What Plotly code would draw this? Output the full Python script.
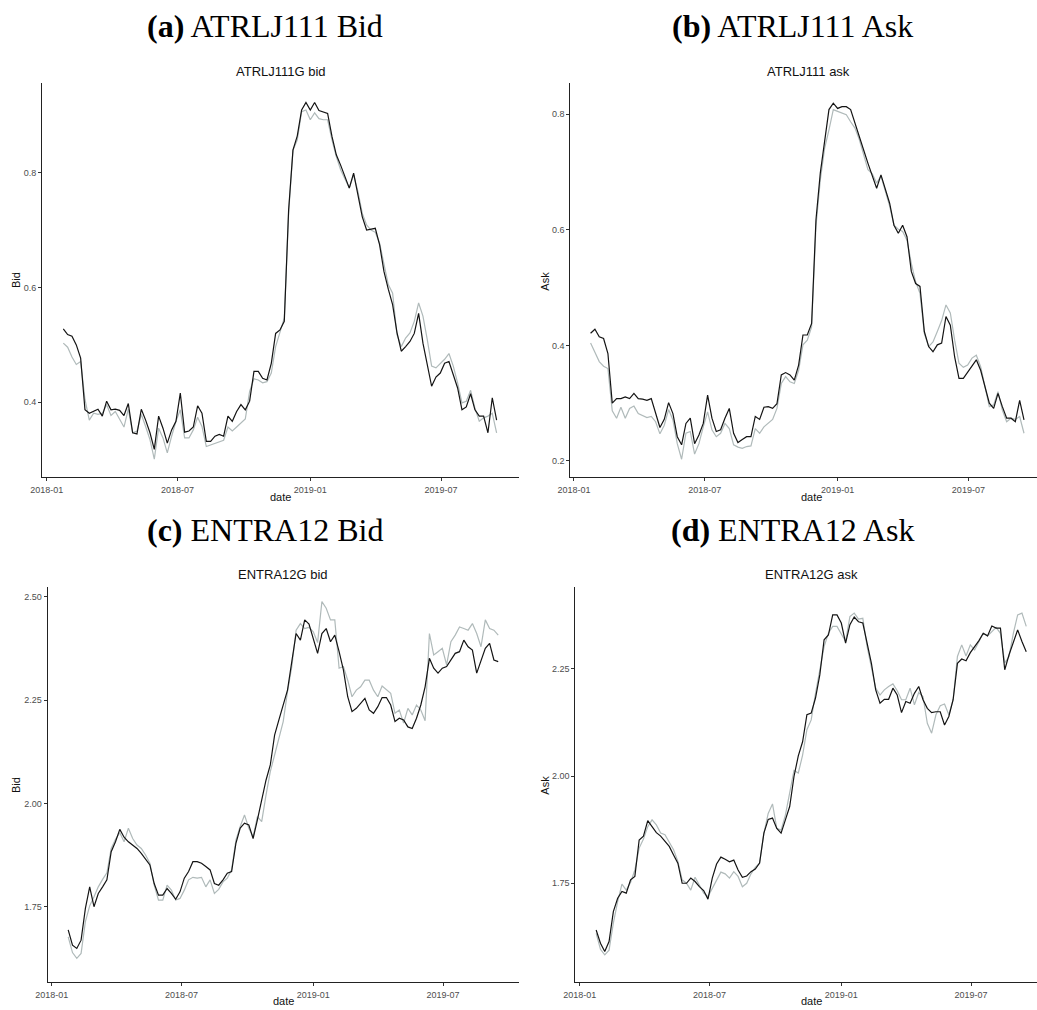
import pandas as pd
import plotly.graph_objects as go

# ---------------- data ----------------
dates = pd.date_range("2018-01-24", periods=101, freq="6D")

a_black = [0.528,0.518,0.515,0.500,0.477,0.387,0.381,0.384,0.388,0.376,
           0.402,0.387,0.388,0.386,0.377,0.398,0.347,0.345,0.388,0.369,
           0.347,0.318,0.376,0.355,0.329,0.352,0.367,0.416,0.348,0.350,
           0.357,0.394,0.381,0.332,0.332,0.341,0.344,0.341,0.376,0.367,
           0.384,0.396,0.387,0.402,0.454,0.454,0.442,0.439,0.468,0.520,
           0.526,0.541,0.735,0.839,0.864,0.909,0.922,0.909,0.922,0.908,
           0.906,0.903,0.863,0.831,0.813,0.793,0.773,0.799,0.764,0.723,
           0.700,0.701,0.703,0.674,0.628,0.597,0.570,0.522,0.489,0.497,
           0.506,0.520,0.555,0.503,0.468,0.428,0.444,0.451,0.468,0.471,
           0.448,0.425,0.387,0.392,0.415,0.387,0.376,0.376,0.347,0.408,
           0.369]
a_grey = [0.503,0.496,0.479,0.466,0.471,0.405,0.369,0.381,0.379,0.381,
          0.396,0.377,0.384,0.371,0.357,0.388,0.347,0.350,0.379,0.358,
          0.335,0.301,0.355,0.338,0.312,0.341,0.367,0.387,0.338,0.338,
          0.352,0.374,0.358,0.323,0.326,0.329,0.332,0.334,0.357,0.350,
          0.357,0.364,0.371,0.419,0.441,0.439,0.434,0.436,0.451,0.497,
          0.521,0.547,0.729,0.839,0.857,0.906,0.909,0.892,0.904,0.894,
          0.892,0.892,0.857,0.828,0.805,0.790,0.773,0.796,0.767,0.729,
          0.709,0.700,0.696,0.677,0.639,0.605,0.590,0.518,0.497,0.512,
          0.521,0.541,0.573,0.550,0.509,0.463,0.460,0.468,0.475,0.485,
          0.463,0.434,0.399,0.402,0.421,0.390,0.367,0.373,0.376,0.381,
          0.347]
b_black = [0.421,0.428,0.415,0.412,0.386,0.300,0.308,0.308,0.311,0.308,
           0.317,0.308,0.307,0.305,0.308,0.282,0.258,0.272,0.301,0.282,
           0.242,0.228,0.265,0.274,0.230,0.245,0.265,0.314,0.274,0.251,
           0.254,0.274,0.291,0.248,0.232,0.237,0.242,0.242,0.277,0.272,
           0.293,0.294,0.291,0.299,0.349,0.353,0.349,0.340,0.366,0.418,
           0.418,0.438,0.617,0.698,0.750,0.808,0.819,0.810,0.813,0.813,
           0.808,0.784,0.758,0.738,0.715,0.695,0.672,0.695,0.669,0.646,
           0.608,0.594,0.608,0.588,0.528,0.507,0.502,0.424,0.398,0.389,
           0.401,0.404,0.450,0.435,0.380,0.343,0.343,0.353,0.363,0.375,
           0.357,0.330,0.300,0.291,0.317,0.294,0.274,0.274,0.268,0.305,
           0.271]
b_grey = [0.404,0.389,0.372,0.364,0.360,0.287,0.274,0.293,0.274,0.291,
          0.295,0.282,0.279,0.275,0.277,0.268,0.247,0.262,0.289,0.271,
          0.230,0.203,0.248,0.251,0.212,0.230,0.259,0.285,0.254,0.242,
          0.248,0.265,0.256,0.228,0.224,0.222,0.225,0.226,0.256,0.248,
          0.259,0.266,0.272,0.291,0.334,0.346,0.337,0.334,0.357,0.401,
          0.409,0.432,0.606,0.686,0.741,0.773,0.808,0.805,0.802,0.799,
          0.787,0.776,0.756,0.730,0.704,0.697,0.681,0.693,0.669,0.641,
          0.608,0.601,0.597,0.582,0.542,0.510,0.490,0.421,0.398,0.406,
          0.424,0.443,0.470,0.456,0.409,0.369,0.362,0.366,0.378,0.383,
          0.363,0.331,0.294,0.297,0.320,0.288,0.268,0.274,0.272,0.277,
          0.248]
c_black = [1.694,1.657,1.649,1.669,1.746,1.798,1.750,1.782,1.798,1.815,
           1.883,1.907,1.937,1.918,1.907,1.899,1.891,1.879,1.865,1.851,
           1.806,1.778,1.778,1.794,1.782,1.768,1.786,1.819,1.835,1.859,
           1.859,1.855,1.847,1.839,1.806,1.802,1.815,1.831,1.835,1.903,
           1.940,1.952,1.948,1.915,1.960,2.008,2.056,2.093,2.165,2.202,
           2.235,2.274,2.343,2.411,2.395,2.444,2.434,2.399,2.363,2.411,
           2.423,2.391,2.407,2.367,2.323,2.258,2.222,2.230,2.242,2.254,
           2.226,2.218,2.234,2.256,2.256,2.238,2.198,2.206,2.202,2.185,
           2.181,2.206,2.238,2.282,2.351,2.327,2.315,2.327,2.331,2.347,
           2.363,2.367,2.395,2.379,2.371,2.315,2.347,2.375,2.387,2.347,
           2.343]
c_grey = [1.677,1.639,1.625,1.637,1.714,1.752,1.774,1.798,1.816,1.832,
          1.891,1.913,1.929,1.907,1.940,1.915,1.899,1.891,1.875,1.855,
          1.802,1.766,1.766,1.802,1.790,1.766,1.770,1.790,1.815,1.821,
          1.819,1.821,1.798,1.815,1.782,1.792,1.810,1.819,1.839,1.911,
          1.944,1.972,1.940,1.919,1.968,1.956,2.020,2.077,2.117,2.161,
          2.198,2.270,2.331,2.419,2.435,2.423,2.426,2.415,2.389,2.488,
          2.472,2.444,2.444,2.327,2.331,2.298,2.258,2.274,2.282,2.298,
          2.298,2.274,2.258,2.284,2.274,2.266,2.218,2.226,2.194,2.230,
          2.214,2.238,2.226,2.200,2.411,2.359,2.367,2.375,2.335,2.391,
          2.407,2.427,2.423,2.419,2.435,2.411,2.379,2.444,2.423,2.419,
          2.407]
d_black = [1.641,1.610,1.591,1.614,1.684,1.715,1.731,1.727,1.758,1.766,
           1.851,1.860,1.896,1.882,1.868,1.860,1.847,1.836,1.816,1.797,
           1.750,1.750,1.762,1.754,1.742,1.733,1.713,1.762,1.795,1.811,
           1.806,1.800,1.804,1.781,1.764,1.767,1.777,1.783,1.797,1.867,
           1.899,1.902,1.878,1.867,1.898,1.929,1.999,2.047,2.080,2.143,
           2.147,2.182,2.236,2.318,2.329,2.376,2.376,2.357,2.310,2.353,
           2.371,2.360,2.357,2.306,2.263,2.201,2.170,2.179,2.179,2.205,
           2.189,2.148,2.174,2.170,2.193,2.209,2.178,2.158,2.148,2.150,
           2.150,2.119,2.139,2.178,2.263,2.273,2.269,2.288,2.302,2.316,
           2.333,2.327,2.350,2.345,2.345,2.248,2.283,2.310,2.341,2.314,
           2.290]
d_grey = [1.633,1.596,1.583,1.594,1.657,1.707,1.748,1.734,1.752,1.781,
          1.832,1.853,1.882,1.898,1.886,1.867,1.863,1.845,1.828,1.801,
          1.758,1.750,1.734,1.764,1.746,1.727,1.719,1.738,1.759,1.776,
          1.772,1.762,1.777,1.766,1.742,1.750,1.772,1.787,1.797,1.867,
          1.913,1.935,1.878,1.874,1.909,1.960,2.013,2.007,2.049,2.108,
          2.131,2.193,2.248,2.302,2.333,2.349,2.349,2.333,2.314,2.372,
          2.380,2.366,2.368,2.302,2.255,2.205,2.189,2.201,2.209,2.215,
          2.199,2.178,2.178,2.205,2.166,2.195,2.185,2.123,2.100,2.143,
          2.164,2.168,2.143,2.178,2.279,2.306,2.280,2.306,2.294,2.314,
          2.333,2.327,2.337,2.347,2.333,2.264,2.279,2.333,2.376,2.380,
          2.349]

captions = ["<b>(a)</b> ATRLJ111 Bid", "<b>(b)</b> ATRLJ111 Ask",
            "<b>(c)</b> ENTRA12 Bid", "<b>(d)</b> ENTRA12 Ask"]
titles = ["ATRLJ111G bid", "ATRLJ111 ask", "ENTRA12G bid", "ENTRA12G ask"]
ylabels = ["Bid", "Ask", "Bid", "Ask"]
x_tick_vals = ["2018-01-01", "2018-07-01", "2019-01-01", "2019-07-01"]
x_tick_text = ["2018-01", "2018-07", "2019-01", "2019-07"]
y_tick_vals = [[0.4, 0.6, 0.8], [0.2, 0.4, 0.6, 0.8],
               [1.75, 2.00, 2.25, 2.50], [1.75, 2.00, 2.25]]
y_tick_text = [["0.4", "0.6", "0.8"], ["0.2", "0.4", "0.6", "0.8"],
               ["1.75", "2.00", "2.25", "2.50"], ["1.75", "2.00", "2.25"]]

series = [(a_black, a_grey), (b_black, b_grey), (c_black, c_grey), (d_black, d_grey)]

# ---------------- layout (pixel geometry of the 1037x1010 page) ----------------
W, H = 1037, 1010
px = lambda v: v / W
py = lambda v: 1 - v / H

x_domains = [[px(42), px(519)], [px(570.3), 1.0], [px(47.7), px(519)], [px(575.3), 1.0]]
y_domains = [[py(477), py(83)], [py(477), py(83)], [py(981.7), py(587)], [py(982.3), py(587)]]
x_ranges = [["2017-12-25 12:00", "2019-10-17"], ["2017-12-26 22:00", "2019-10-04"],
            ["2017-12-26 10:00", "2019-10-15"], ["2017-12-25 22:00", "2019-10-01"]]
y_ranges = [[0.27, 0.956], [0.1723, 0.854], [1.5685, 2.5235], [1.519, 2.441]]

cap_pos = [(264.5, 26), (792.5, 26), (265, 530), (792.5, 530)]
title_pos = [(280.5, 71), (808.8, 71), (283.3, 574), (811.3, 574)]
xlab_pos = [(280.5, 497), (811, 497), (283.3, 1001), (811, 1001)]
ylab_pos = [(16, 280), (544.7, 281), (16, 785), (544.7, 785)]

SANS = "Liberation Sans, Arial, sans-serif"
SERIF = "Liberation Serif, Times New Roman, serif"
BLACK = "#141414"
GREY = "#b0baba"

fig = go.Figure()
annotations = []
layout = dict(width=W, height=H, margin=dict(l=0, r=0, t=0, b=0),
              paper_bgcolor="white", plot_bgcolor="white", showlegend=False)

for i in range(4):
    n = "" if i == 0 else str(i + 1)
    xa, ya = "x" + n, "y" + n
    blk, gry = series[i]
    fig.add_trace(go.Scatter(x=dates, y=gry, mode="lines", xaxis=xa, yaxis=ya,
                             line=dict(color=GREY, width=1.2), hoverinfo="skip"))
    fig.add_trace(go.Scatter(x=dates, y=blk, mode="lines", xaxis=xa, yaxis=ya,
                             line=dict(color=BLACK, width=1.2), hoverinfo="skip"))
    common = dict(showgrid=False, zeroline=False, showline=True, linecolor="#222222",
                  linewidth=1.1, ticks="outside", ticklen=3, tickwidth=1,
                  tickcolor="#333333", automargin=False,
                  tickfont=dict(family=SANS, size=9, color="#4d4d4d"))
    layout["xaxis" + n] = dict(domain=x_domains[i], anchor=ya, type="date",
                               range=x_ranges[i], tickmode="array",
                               tickvals=x_tick_vals, ticktext=x_tick_text,
                               ticklabelstandoff=1, **common)
    layout["yaxis" + n] = dict(domain=y_domains[i], anchor=xa, range=y_ranges[i],
                               tickmode="array", tickvals=y_tick_vals[i],
                               ticktext=y_tick_text[i], ticklabelstandoff=0, **common)
    annotations.append(dict(text=captions[i], x=px(cap_pos[i][0]), y=py(cap_pos[i][1]),
                            xref="paper", yref="paper", showarrow=False,
                            xanchor="center", yanchor="middle",
                            font=dict(family=SERIF, size=32, color="#000000")))
    annotations.append(dict(text=titles[i], x=px(title_pos[i][0]), y=py(title_pos[i][1]),
                            xref="paper", yref="paper", showarrow=False,
                            xanchor="center", yanchor="middle",
                            font=dict(family=SANS, size=13, color="#111111")))
    annotations.append(dict(text="date", x=px(xlab_pos[i][0]), y=py(xlab_pos[i][1]),
                            xref="paper", yref="paper", showarrow=False,
                            xanchor="center", yanchor="middle",
                            font=dict(family=SANS, size=11, color="#111111")))
    annotations.append(dict(text=ylabels[i], x=px(ylab_pos[i][0]), y=py(ylab_pos[i][1]),
                            xref="paper", yref="paper", showarrow=False, textangle=-90,
                            xanchor="center", yanchor="middle",
                            font=dict(family=SANS, size=11, color="#111111")))

layout["annotations"] = annotations
fig.update_layout(**layout)
fig.write_html("out.html")
